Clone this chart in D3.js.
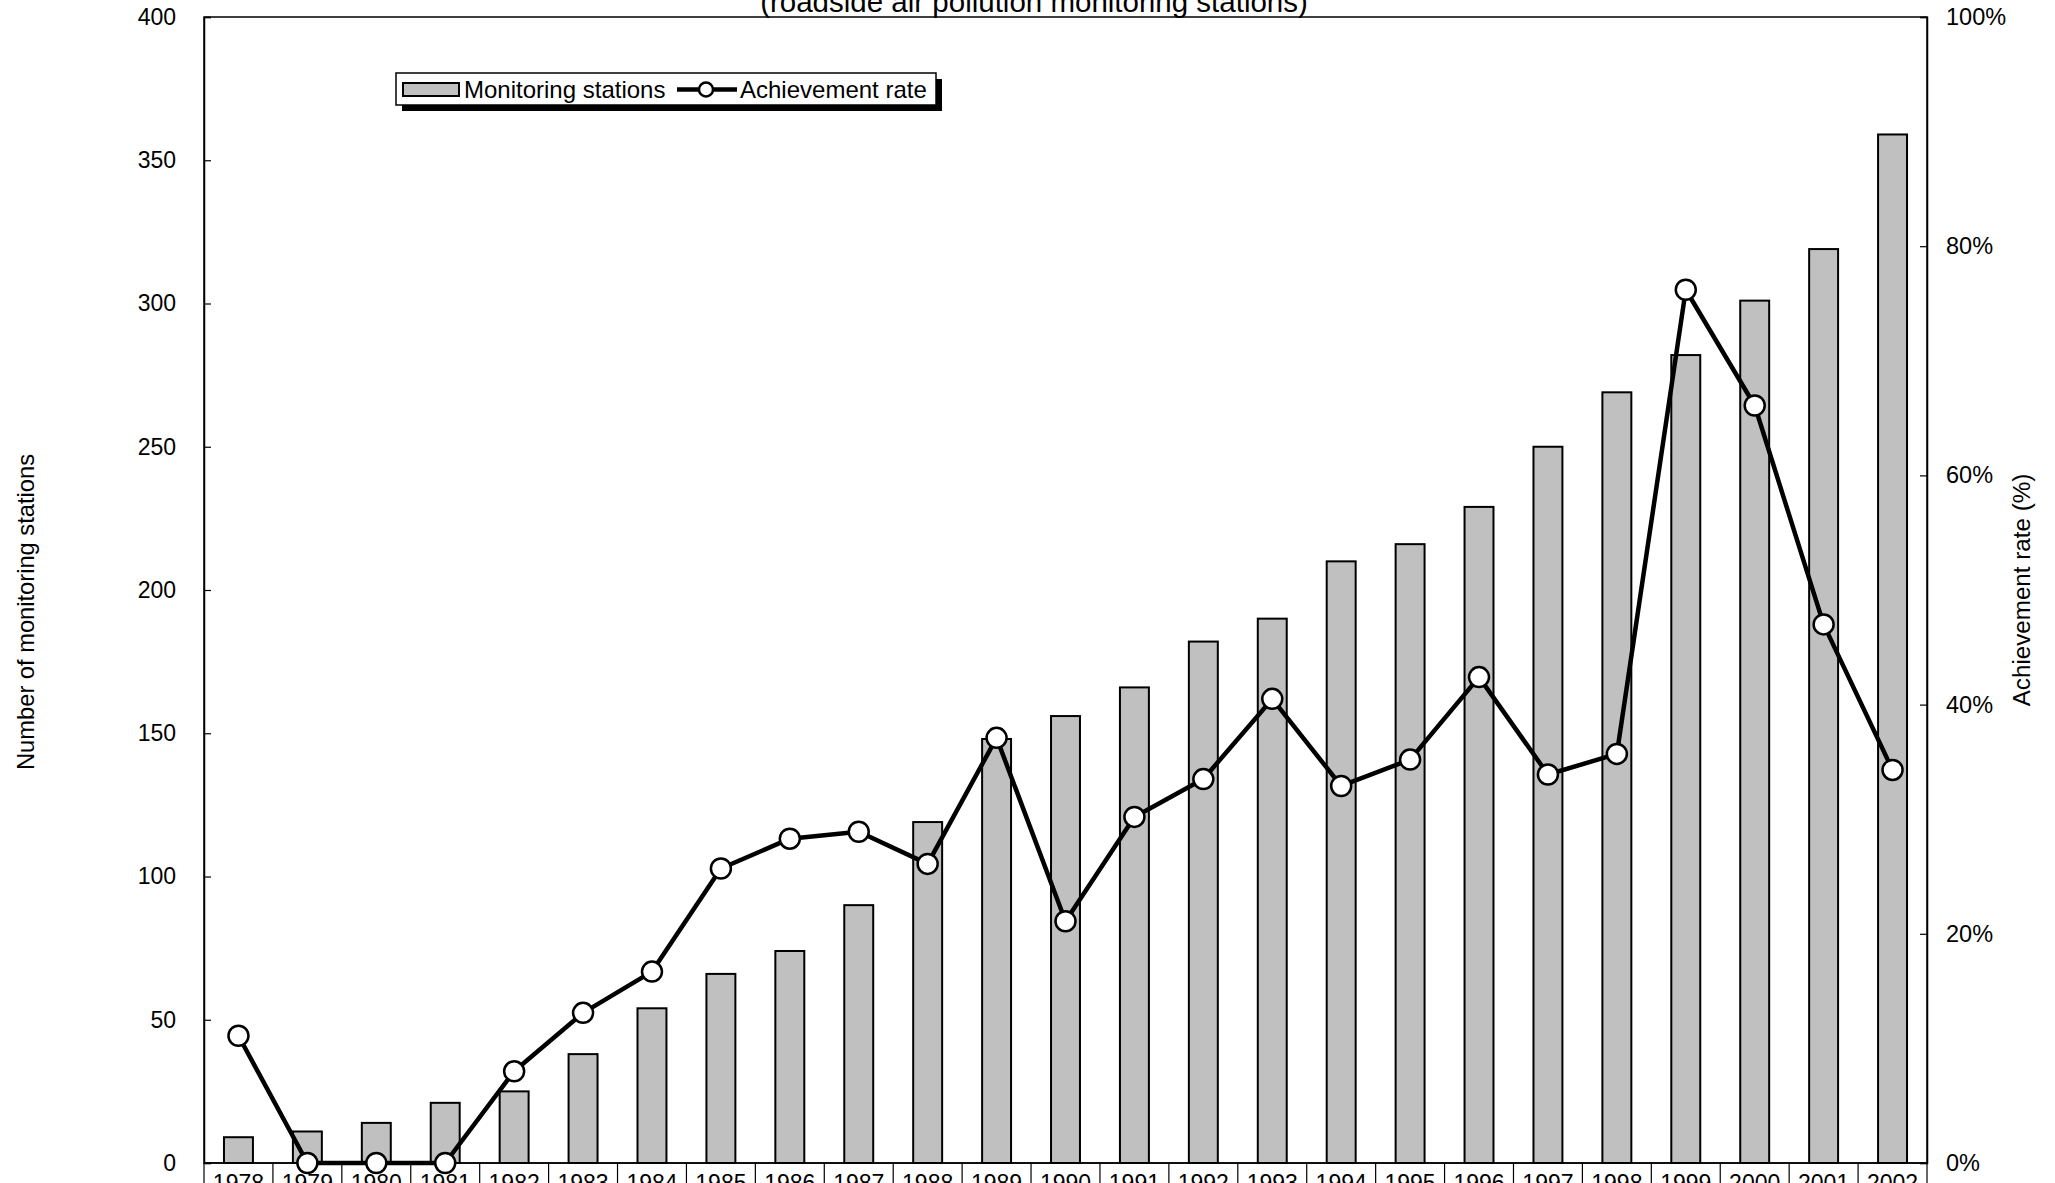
<!DOCTYPE html>
<html><head><meta charset="utf-8">
<script src="https://cdn.jsdelivr.net/npm/d3@7"></script>
<style>
html,body{margin:0;padding:0;background:#fff;}
text{font-family:"Liberation Sans",Arial,sans-serif;fill:#000;}
</style></head>
<body><svg id="c" width="2055" height="1183"></svg>
<script>
const years = ["1978","1979","1980","1981","1982","1983","1984","1985","1986","1987","1988","1989","1990","1991","1992","1993","1994","1995","1996","1997","1998","1999","2000","2001","2002"];
const stations = [9,11,14,21,25,38,54,66,74,90,119,148,156,166,182,190,210,216,229,250,269,282,301,319,359];
const achievement = [11.1,0,0,0,8.0,13.1,16.7,25.7,28.3,28.9,26.1,37.1,21.1,30.2,33.5,40.5,32.9,35.2,42.4,33.9,35.7,76.2,66.1,47.0,34.3];
const leftTicks = [0,50,100,150,200,250,300,350,400];
const rightTicks = [0,20,40,60,80,100];
const titleText = "(roadside air pollution monitoring stations)";
const leftTitle = "Number of monitoring stations";
const rightTitle = "Achievement rate (%)";
const legendLabels = ["Monitoring stations","Achievement rate"];

const L=204, R=1927, T=17, B=1163;
const svg = d3.select("#c");
const x = d3.scaleBand().domain(years).range([L,R]).padding(0);
const yL = d3.scaleLinear().domain([0,400]).range([B,T]);
const yR = d3.scaleLinear().domain([0,100]).range([B,T]);
const bw = x.bandwidth();

// title (partially clipped, as in the source)
svg.append("text").attr("x",1034).attr("y",12).attr("text-anchor","middle")
  .style("font-size","29.5px").text(titleText);

// bars
svg.append("g").selectAll("rect").data(years).join("rect")
  .attr("x",d=>x(d)+bw*0.29).attr("width",bw*0.42)
  .attr("y",(d,i)=>yL(stations[i])).attr("height",(d,i)=>B-yL(stations[i]))
  .attr("fill","#c0c0c0").attr("stroke","#000").attr("stroke-width",2);

// frame
svg.append("rect").attr("x",L).attr("y",T).attr("width",R-L).attr("height",B-T)
  .attr("fill","none").attr("stroke","#000").attr("stroke-width",1.5);

// left axis
const gl = svg.append("g").attr("transform",`translate(${L},0)`)
  .call(d3.axisLeft(yL).tickValues(leftTicks).tickSize(-7).tickPadding(28));
gl.select(".domain").attr("stroke","#000").attr("stroke-width",1.5);
gl.selectAll(".tick line").attr("stroke","#000").attr("stroke-width",1.2);
gl.selectAll("text").style("font-size","23px").attr("font-family",null);

// right axis
const gr = svg.append("g").attr("transform",`translate(${R},0)`)
  .call(d3.axisRight(yR).tickValues(rightTicks).tickSize(-7).tickPadding(19).tickFormat(d=>d+"%"));
gr.select(".domain").attr("stroke","#000").attr("stroke-width",1.5);
gr.selectAll(".tick line").attr("stroke","#000").attr("stroke-width",1.2);
gr.selectAll("text").style("font-size","23.5px").attr("font-family",null);

// x axis: category separators and labels
const gx = svg.append("g");
gx.append("line").attr("x1",L).attr("x2",R).attr("y1",B).attr("y2",B).attr("stroke","#000").attr("stroke-width",1.5);
gx.selectAll("line.sep").data(years.concat(["end"])).join("line").attr("class","sep")
  .attr("x1",(d,i)=>i<years.length?x(d):R).attr("x2",(d,i)=>i<years.length?x(d):R)
  .attr("y1",B).attr("y2",B+40).attr("stroke","#000").attr("stroke-width",1.2);
gx.selectAll("text").data(years).join("text")
  .attr("x",d=>x(d)+bw/2).attr("y",B+28).attr("text-anchor","middle")
  .style("font-size","23px").text(d=>d);

// line
const line = d3.line().x((d,i)=>x(years[i])+bw/2).y(d=>yR(d));
svg.append("path").datum(achievement).attr("d",line)
  .attr("fill","none").attr("stroke","#000").attr("stroke-width",4.5).attr("stroke-linejoin","round");
svg.append("g").selectAll("circle").data(achievement).join("circle")
  .attr("cx",(d,i)=>x(years[i])+bw/2).attr("cy",d=>yR(d)).attr("r",10)
  .attr("fill","#fff").attr("stroke","#000").attr("stroke-width",2.5);

// axis titles
svg.append("text").attr("transform","translate(34,612) rotate(-90)").attr("text-anchor","middle")
  .style("font-size","23.7px").text(leftTitle);
svg.append("text").attr("transform","translate(2030,590) rotate(-90)").attr("text-anchor","middle")
  .style("font-size","24.2px").text(rightTitle);

// legend
const lg = svg.append("g");
lg.append("rect").attr("x",402).attr("y",79).attr("width",540).attr("height",32).attr("fill","#000");
lg.append("rect").attr("x",396).attr("y",73).attr("width",540).attr("height",32).attr("fill","#fff").attr("stroke","#000").attr("stroke-width",1.5);
lg.append("rect").attr("x",403).attr("y",83).attr("width",56).attr("height",13).attr("fill","#c0c0c0").attr("stroke","#000").attr("stroke-width",2);
lg.append("text").attr("x",464).attr("y",98).style("font-size","24px").text(legendLabels[0]);
lg.append("line").attr("x1",677).attr("x2",737).attr("y1",89.5).attr("y2",89.5).attr("stroke","#000").attr("stroke-width",4.5);
lg.append("circle").attr("cx",706).attr("cy",89.5).attr("r",7).attr("fill","#fff").attr("stroke","#000").attr("stroke-width",2.5);
lg.append("text").attr("x",740).attr("y",98).style("font-size","24px").text(legendLabels[1]);
</script></body></html>
